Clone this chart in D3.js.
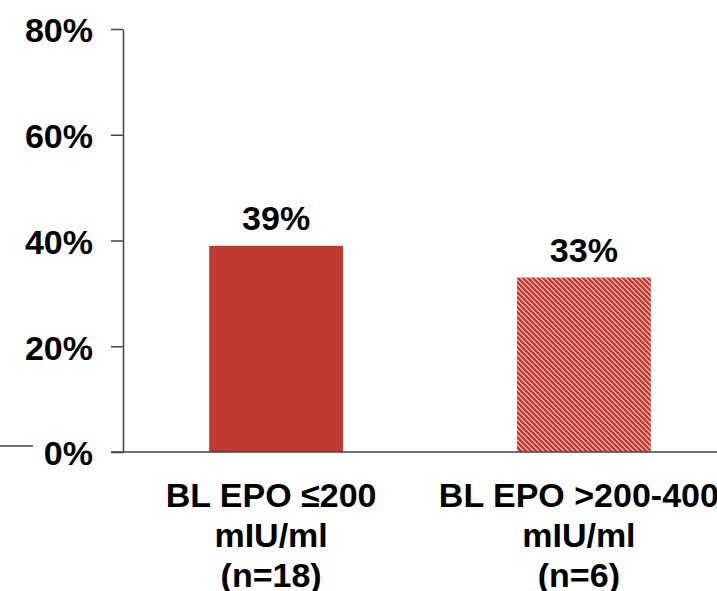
<!DOCTYPE html>
<html>
<head>
<meta charset="utf-8">
<script src="https://cdn.jsdelivr.net/npm/d3@7"></script>
<style>
  body { margin: 0; background: #fff; }
  text { font-family: "Liberation Sans", Arial, sans-serif; font-weight: bold; fill: #000; }
</style>
</head>
<body>
<div class="graph"></div>
<script>
// Chart data
const categories = ["BL EPO \u2264200|mIU/ml|(n=18)", "BL EPO >200-400|mIU/ml|(n=6)"];
const values = [0.39, 0.33];
const valueLabels = ["39%", "33%"];
const yTicks = [0, 0.2, 0.4, 0.6, 0.8];

const dimensions = {
    width: 717,
    height: 591,
    margins: { top: 29, left: 123, bottom: 139, right: 0 }
};
dimensions.boundedHeight = dimensions.height - dimensions.margins.top - dimensions.margins.bottom;

const wrapper = d3.select(".graph")
    .append("svg")
        .attr("width", dimensions.width)
        .attr("height", dimensions.height);

// hatch pattern for the second bar
const defs = wrapper.append("defs");
const pat = defs.append("pattern")
    .attr("id", "hatch")
    .attr("patternUnits", "userSpaceOnUse")
    .attr("width", 5)
    .attr("height", 5);
pat.append("rect").attr("width", 5).attr("height", 5).attr("fill", "#f0c8c3");
pat.append("path")
    .attr("d", "M-1,-1 L6,6 M-4,1 L4,9 M1,-4 L9,4")
    .attr("stroke", "#c8372d")
    .attr("stroke-width", 2.4);

const yScale = d3.scaleLinear()
    .domain([0, 0.8])
    .range([dimensions.margins.top + dimensions.boundedHeight, dimensions.margins.top]);

const xScale = d3.scaleBand()
    .domain(categories)
    .range([dimensions.margins.left, dimensions.margins.left + 614])
    .paddingInner(0.565)
    .paddingOuter(0.28);

// bars
wrapper.append("g")
    .selectAll("rect")
    .data(values)
    .join("rect")
        .attr("x", (d, i) => xScale(categories[i]))
        .attr("y", d => yScale(d))
        .attr("width", xScale.bandwidth())
        .attr("height", d => yScale(0) - yScale(d))
        .attr("fill", (d, i) => i === 0 ? "#c13a31" : "url(#hatch)");

// value labels
wrapper.append("g")
    .selectAll("text")
    .data(values)
    .join("text")
        .attr("x", (d, i) => xScale(categories[i]) + xScale.bandwidth() / 2)
        .attr("y", d => yScale(d) - 16)
        .attr("text-anchor", "middle")
        .style("font-size", "34px")
        .text((d, i) => valueLabels[i]);

// y axis
const yAxis = wrapper.append("g")
    .attr("transform", `translate(${dimensions.margins.left},0)`)
    .call(d3.axisLeft(yScale).tickValues(yTicks).tickFormat(d3.format(".0%")).tickSize(12).tickSizeOuter(0).tickPadding(18));
yAxis.select(".domain").attr("stroke", "#444").attr("stroke-width", 1.5);
yAxis.selectAll(".tick line").attr("stroke", "#444").attr("stroke-width", 1.5);
yAxis.selectAll(".tick text")
    .style("font-size", "34px")
    .attr("dy", "0.38em");

// x axis baseline
wrapper.append("line")
    .attr("x1", dimensions.margins.left - 12)
    .attr("x2", dimensions.width)
    .attr("y1", yScale(0))
    .attr("y2", yScale(0))
    .attr("stroke", "#444")
    .attr("stroke-width", 1.5);

// stray line at left edge
wrapper.append("line")
    .attr("x1", 0).attr("x2", 33)
    .attr("y1", yScale(0) - 6).attr("y2", yScale(0) - 6)
    .attr("stroke", "#444")
    .attr("stroke-width", 1.3);

// category labels
const catText = wrapper.append("g")
    .selectAll("text")
    .data(categories)
    .join("text")
        .attr("x", d => xScale(d) + xScale.bandwidth() / 2 - 5)
        .attr("y", yScale(0) + 55)
        .attr("text-anchor", "middle")
        .style("font-size", "34px");
catText.selectAll("tspan")
    .data(d => d.split("|"))
    .join("tspan")
        .attr("x", function() { return d3.select(this.parentNode).attr("x"); })
        .attr("dy", (d, i) => i === 0 ? 0 : 40)
        .text(d => d);
</script>
</body>
</html>
